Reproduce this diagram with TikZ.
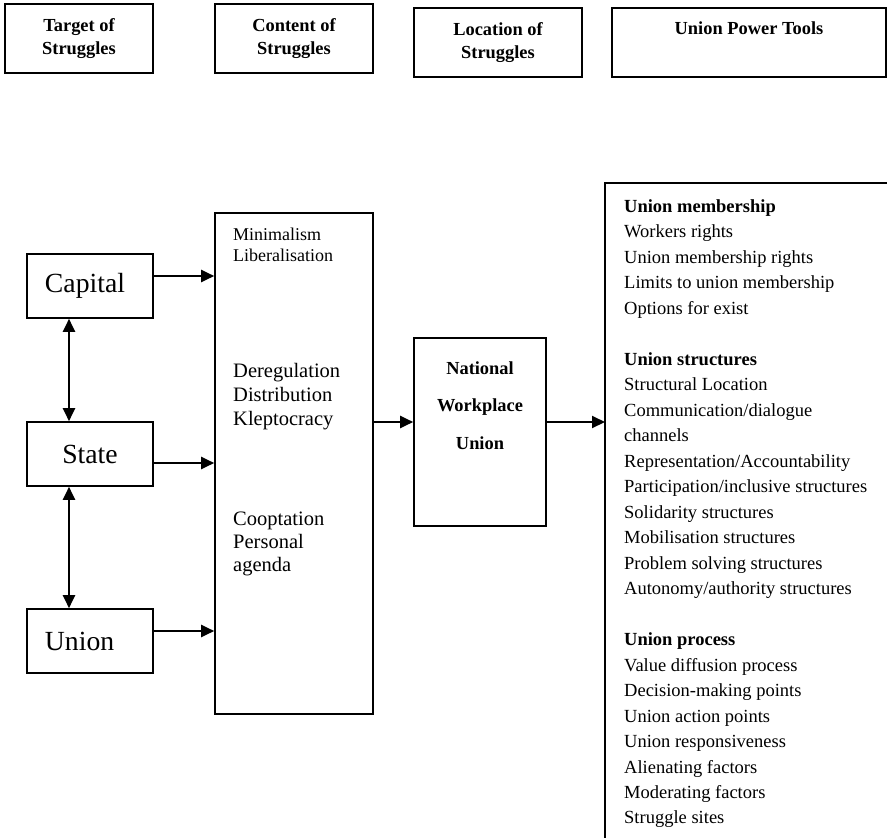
\documentclass[tikz,border=0pt]{standalone}
\usepackage{fontspec}
\setmainfont{Liberation Serif}
\usetikzlibrary{arrows.meta}
\begin{document}
\begin{tikzpicture}[x=1pt,y=-1pt,
  frame/.style={draw, line width=1.6pt, inner sep=0pt},
  hdr/.style={frame, minimum height=69pt, font=\fontsize{18.4}{23}\selectfont\bfseries},
  actor/.style={frame, minimum width=126pt, minimum height=64pt, text width=90pt,
    inner xsep=18pt, font=\fontsize{27.7}{32}\selectfont},
  body/.style={inner sep=0pt, anchor=base west},
  tip/.tip={Triangle[length=13pt,width=12pt]},
  link/.style={line width=2pt, -tip},
  dlink/.style={line width=2pt, tip-tip},
]
\useasboundingbox (0,0) rectangle (887,838);

% column headings
\node[hdr, minimum width=148pt] (hTarget) at (79,38.5)
  {\begin{tabular}{@{}c@{}}Target of\\Struggles\end{tabular}};
\node[hdr, minimum width=158pt] (hContent) at (294,38.5)
  {\begin{tabular}{@{}c@{}}Content of\\Struggles\end{tabular}};
\node[hdr, minimum width=168pt] (hLocation) at (498,42.5)
  {\begin{tabular}{@{}c@{}}Location of\\Struggles\end{tabular}};
\node[hdr, minimum width=274pt] (hTools) at (749,42.5) {};
\node[inner sep=0pt, anchor=base, font=\fontsize{18.4}{23}\selectfont\bfseries]
  (hToolsText) at (749,34) {Union Power Tools};

% targets of struggles
\node[actor, align=left] (capital) at (90,286) {Capital};
\node[actor, align=center] (state) at (90,454) {State};
\node[actor, align=left] (union) at (90,641) {Union};

% content of struggles
\node[frame, minimum width=158pt, minimum height=501pt] (content) at (294,463.5) {};
\node[body, font=\fontsize{18}{21}\selectfont] (cMin) at (233,240)
  {\begin{tabular}[t]{@{}l@{}}Minimalism\\Liberalisation\end{tabular}};
\node[body, font=\fontsize{20.5}{24}\selectfont] (cDereg) at (233,377.5)
  {\begin{tabular}[t]{@{}l@{}}Deregulation\\Distribution\\Kleptocracy\end{tabular}};
\node[body, font=\fontsize{20.5}{23}\selectfont] (cCoopt) at (233,525)
  {\begin{tabular}[t]{@{}l@{}}Cooptation\\Personal\\agenda\end{tabular}};

% location of struggles
\node[frame, minimum width=132pt, minimum height=188pt] (nwu) at (480,432) {};
\node[inner sep=0pt, anchor=base, font=\fontsize{18.4}{37.5}\selectfont\bfseries]
  (nwuText) at (480,374)
  {\begin{tabular}[t]{@{}c@{}}National\\Workplace\\Union\end{tabular}};

% union power tools (open frame running off the page)
\node[inner sep=0pt, minimum width=282pt, minimum height=655pt, anchor=north west]
  (tools) at (605,183) {};
\draw[line width=1.6pt] (tools.south west) -- (tools.north west) -- (tools.north east);
\node[body, font=\fontsize{18.5}{25.5}\selectfont] (toolsList) at (624,212)
  {\begin{tabular}[t]{@{}l@{}}
   \textbf{Union membership}\\
   Workers rights\\
   Union membership rights\\
   Limits to union membership\\
   Options for exist\\
   \\
   \textbf{Union structures}\\
   Structural Location\\
   Communication/dialogue\\
   channels\\
   Representation/Accountability\\
   Participation/inclusive structures\\
   Solidarity structures\\
   Mobilisation structures\\
   Problem solving structures\\
   Autonomy/authority structures\\
   \\
   \textbf{Union process}\\
   Value diffusion process\\
   Decision-making points\\
   Union action points\\
   Union responsiveness\\
   Alienating factors\\
   Moderating factors\\
   Struggle sites
  \end{tabular}};

% connectors
\draw[link] ([yshift=10pt]capital.east) -- ([yshift=10pt]capital.east -| content.west);
\draw[link] ([yshift=-9pt]state.east) -- ([yshift=-9pt]state.east -| content.west);
\draw[link] ([yshift=10pt]union.east) -- ([yshift=10pt]union.east -| content.west);
\draw[dlink] ([xshift=-21pt]capital.south) -- ([xshift=-21pt]state.north);
\draw[dlink] ([xshift=-21pt]state.south) -- ([xshift=-21pt]union.north);
\draw[link] ([yshift=10pt]nwu.west -| content.east) -- ([yshift=10pt]nwu.west);
\draw[link] ([yshift=10pt]nwu.east) -- ([yshift=10pt]nwu.east -| tools.west);
\end{tikzpicture}
\end{document}
